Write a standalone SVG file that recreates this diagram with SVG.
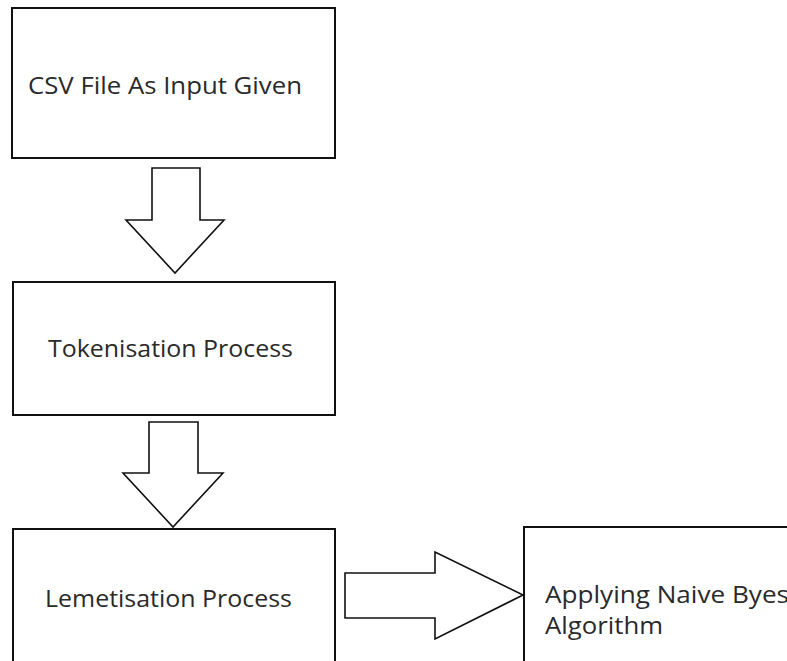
<svg xmlns="http://www.w3.org/2000/svg" width="787" height="661" viewBox="0 0 787 661">
  <style>
    .box { fill: #ffffff; stroke: #111111; stroke-width: 2; }
    .arrow { fill: #ffffff; stroke: #111111; stroke-width: 1.6; stroke-linejoin: miter; }
    .label { font-family: "Open Sans", "Noto Sans", "Liberation Sans", sans-serif; font-size: 24px; fill: #2a2a2a; }
  </style>
  <rect x="0" y="0" width="787" height="661" fill="#ffffff"/>

  <g id="node-csv-input">
    <rect class="box" x="12" y="8" width="323" height="150"/>
    <text class="label" x="28" y="94" textLength="274" lengthAdjust="spacingAndGlyphs">CSV File As Input Given</text>
  </g>

  <g id="node-tokenisation">
    <rect class="box" x="13" y="282" width="322" height="133"/>
    <text class="label" x="48" y="357" textLength="245" lengthAdjust="spacingAndGlyphs">Tokenisation Process</text>
  </g>

  <g id="node-lemetisation">
    <rect class="box" x="13" y="529" width="322" height="150"/>
    <text class="label" x="45" y="607" textLength="247" lengthAdjust="spacingAndGlyphs">Lemetisation Process</text>
  </g>

  <g id="node-naive-bayes">
    <rect class="box" x="524" y="527" width="300" height="150"/>
    <text class="label" x="545" y="603" textLength="244" lengthAdjust="spacingAndGlyphs">Applying Naive Byes</text>
    <text class="label" x="545" y="634" textLength="118" lengthAdjust="spacingAndGlyphs">Algorithm</text>
  </g>

  <g id="connectors">
    <polygon class="arrow" points="152,168 200,168 200,220 224,220 175,273 126,220 152,220"/>
    <polygon class="arrow" points="149,422 198,422 198,473 223,473 173,527 123,473 149,473"/>
    <polygon class="arrow" points="345,573 435,573 435,552 523,595 435,639 435,618 345,618"/>
  </g>
</svg>
